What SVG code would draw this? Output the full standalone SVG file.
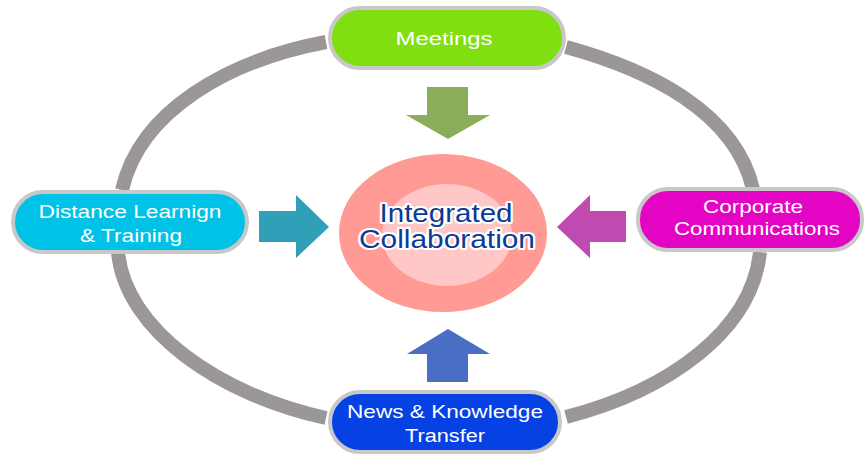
<svg xmlns="http://www.w3.org/2000/svg" width="865" height="454" viewBox="0 0 865 454">
<style>
.pill{stroke:#c8c8c8;stroke-width:4}
.ring{fill:none;stroke:#9b9797;stroke-width:14;stroke-linecap:butt}
.lbl{font-family:"Liberation Sans",Arial,sans-serif;font-size:18px;fill:#ffffff;text-anchor:middle}
.ctr{font-family:"Liberation Sans",Arial,sans-serif;font-size:25px;fill:#0b3a97;text-anchor:middle;stroke:#ffffff;stroke-width:4;stroke-linejoin:round;paint-order:stroke}
</style>
<rect width="865" height="454" fill="#ffffff"/>
<g id="connectors">
<path class="ring" d="M326,42 C230,60 140,110 122,190"/>
<path class="ring" d="M118,252 C125,330 220,395 326,418"/>
<path class="ring" d="M566,47 C650,70 735,112 753,189"/>
<path class="ring" d="M760,252 C752,330 670,390 566,417"/>
<polygon points="427,87 468,87 468,115 490,115 448,139 406,115 427,115" fill="#8aad5a"/>
<polygon points="259,211 296,211 296,195 329,227 296,258 296,242 259,242" fill="#2fa0b8"/>
<polygon points="626,211 590,211 590,195 557,227 590,258 590,242 626,242" fill="#c04bb0"/>
<polygon points="427,382 468,382 468,354 490,354 448,329 407,354 427,354" fill="#4a6ec4"/>
</g>
<g id="center">
<ellipse cx="443" cy="233" rx="104" ry="79" fill="#ff9a94"/>
<ellipse cx="447" cy="235" rx="65" ry="51" fill="#ffc8c6"/>
<text class="ctr" x="446" y="222" textLength="133" lengthAdjust="spacingAndGlyphs">Integrated</text>
<text class="ctr" x="447" y="248" textLength="176" lengthAdjust="spacingAndGlyphs">Collaboration</text>
</g>
<g id="meetings">
<rect class="pill" x="330" y="8" width="234" height="60" rx="30" fill="#7fdf10"/>
<text class="lbl" x="444" y="45" textLength="97" lengthAdjust="spacingAndGlyphs">Meetings</text>
</g>
<g id="distance">
<rect class="pill" x="13" y="192" width="234" height="60" rx="30" fill="#00c2e6"/>
<text class="lbl" x="130" y="218" textLength="183" lengthAdjust="spacingAndGlyphs">Distance Learnign</text>
<text class="lbl" x="131" y="242" textLength="102" lengthAdjust="spacingAndGlyphs">&amp; Training</text>
</g>
<g id="corporate">
<rect class="pill" x="638" y="189" width="224" height="61" rx="30" fill="#e404c4"/>
<text class="lbl" x="753" y="213" textLength="100" lengthAdjust="spacingAndGlyphs">Corporate</text>
<text class="lbl" x="757" y="235" textLength="166" lengthAdjust="spacingAndGlyphs">Communications</text>
</g>
<g id="news">
<rect class="pill" x="330" y="392" width="230" height="60" rx="30" fill="#0641e4"/>
<text class="lbl" x="445" y="418" textLength="196" lengthAdjust="spacingAndGlyphs">News &amp; Knowledge</text>
<text class="lbl" x="445" y="442" textLength="80" lengthAdjust="spacingAndGlyphs">Transfer</text>
</g>
</svg>
